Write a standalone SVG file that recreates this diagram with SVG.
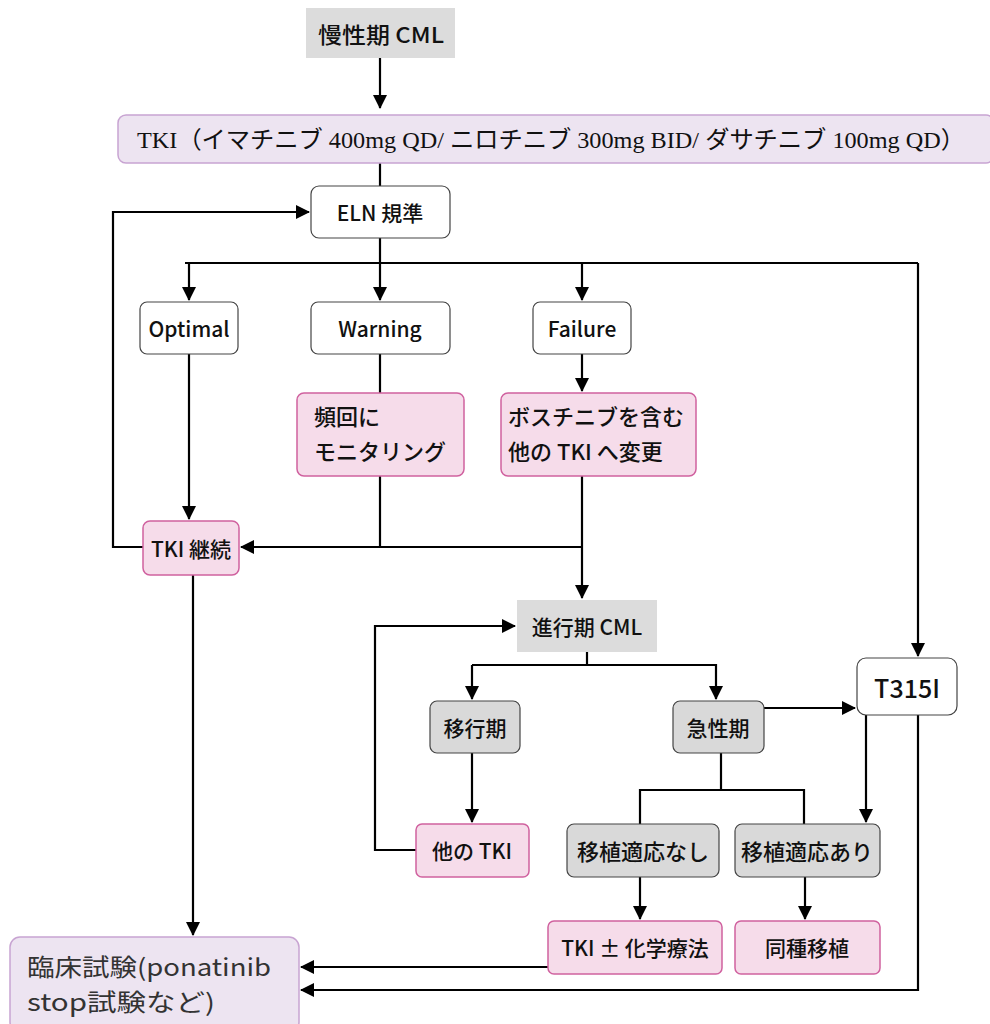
<svg xmlns="http://www.w3.org/2000/svg" width="990" height="1024" viewBox="0 0 990 1024">
<defs>
<marker id="ahL" markerWidth="14" markerHeight="14" refX="13" refY="7" orient="auto" markerUnits="userSpaceOnUse" viewBox="0 0 14 14">
<path d="M0,0 L14,7 L0,14 Z" fill="#000"/>
</marker>
</defs>
<style>
text{font-family:"Noto Sans CJK JP","Liberation Sans",sans-serif;font-size:21px;font-weight:500;fill:#111}
.c{text-anchor:middle;dominant-baseline:central}
.gray{fill:#dcdcdc;stroke:none}
.grayb{fill:#d9d9d9;stroke:#444;stroke-width:1.2}
.white{fill:#fff;stroke:#444;stroke-width:1.2}
.pink{fill:#f6dcea;stroke:#d0619f;stroke-width:1.5}
.purple{fill:#ede4f1;stroke:#c8a4d2;stroke-width:1.5}
.ln{fill:none;stroke:#000;stroke-width:2.2}
.trial{font-size:24px;font-weight:400;fill:#333}
</style>
<rect width="990" height="1024" fill="#fff"/>
<g id="connectors">
<line class="ln" x1="380" y1="58" x2="380" y2="108" marker-end="url(#ahL)"/>
<line class="ln" x1="380" y1="163" x2="380" y2="186"/>
<polyline class="ln" points="143,547 113,547 113,212 309,212" marker-end="url(#ahL)"/>
<line class="ln" x1="380" y1="238" x2="380" y2="300" marker-end="url(#ahL)"/>
<polyline class="ln" points="918,263 185,263"/>
<line class="ln" x1="189" y1="263" x2="189" y2="300" marker-end="url(#ahL)"/>
<line class="ln" x1="582" y1="263" x2="582" y2="300" marker-end="url(#ahL)"/>
<line class="ln" x1="918" y1="263" x2="918" y2="656" marker-end="url(#ahL)"/>
<line class="ln" x1="189" y1="354" x2="189" y2="519" marker-end="url(#ahL)"/>
<line class="ln" x1="380" y1="354" x2="380" y2="393"/>
<line class="ln" x1="380" y1="476" x2="380" y2="547"/>
<line class="ln" x1="582" y1="354" x2="582" y2="391" marker-end="url(#ahL)"/>
<line class="ln" x1="582" y1="547" x2="241" y2="547" marker-end="url(#ahL)"/>
<line class="ln" x1="582" y1="476" x2="582" y2="598" marker-end="url(#ahL)"/>
<line class="ln" x1="193" y1="575" x2="193" y2="935" marker-end="url(#ahL)"/>
<polyline class="ln" points="416,850 375,850 375,626 515,626" marker-end="url(#ahL)"/>
<line class="ln" x1="587" y1="652" x2="587" y2="665"/>
<polyline class="ln" points="472,665 716,665 716,699" marker-end="url(#ahL)"/>
<line class="ln" x1="472" y1="665" x2="472" y2="699" marker-end="url(#ahL)"/>
<line class="ln" x1="764" y1="708" x2="855" y2="708" marker-end="url(#ahL)"/>
<line class="ln" x1="472" y1="753" x2="472" y2="822" marker-end="url(#ahL)"/>
<line class="ln" x1="721" y1="753" x2="721" y2="790"/>
<polyline class="ln" points="640,824 640,790 804,790 804,824"/>
<line class="ln" x1="866" y1="715" x2="866" y2="822" marker-end="url(#ahL)"/>
<polyline class="ln" points="918,715 918,990 301,990" marker-end="url(#ahL)"/>
<line class="ln" x1="640" y1="877" x2="640" y2="919" marker-end="url(#ahL)"/>
<line class="ln" x1="805" y1="877" x2="805" y2="919" marker-end="url(#ahL)"/>
<line class="ln" x1="548" y1="967" x2="301" y2="967" marker-end="url(#ahL)"/>
</g>
<g id="n-chronic">
<rect class="gray" x="306" y="8" width="149" height="50"/>
<text class="c" x="381" y="33" textLength="126" lengthAdjust="spacingAndGlyphs" style="font-size:22px">慢性期 CML</text>
</g>
<g id="n-tki">
<rect class="purple" x="118" y="115" width="876" height="48" rx="8"/>
<text x="137" y="148" textLength="828" lengthAdjust="spacingAndGlyphs" style="font-family:'Liberation Serif','Noto Sans CJK JP',serif;font-size:24px;font-weight:400">TKI（イマチニブ 400mg QD/ ニロチニブ 300mg BID/ ダサチニブ 100mg QD）</text>
</g>
<g id="n-eln">
<rect class="white" x="311" y="186" width="139" height="52" rx="8"/>
<text class="c" x="380" y="212">ELN 規準</text>
</g>
<g id="n-optimal">
<rect class="white" x="140" y="302" width="98" height="52" rx="7"/>
<text class="c" x="189" y="328">Optimal</text>
</g>
<g id="n-warning">
<rect class="white" x="311" y="302" width="139" height="52" rx="7"/>
<text class="c" x="380" y="328">Warning</text>
</g>
<g id="n-failure">
<rect class="white" x="533" y="302" width="98" height="52" rx="7"/>
<text class="c" x="582" y="328">Failure</text>
</g>
<g id="n-monitor">
<rect class="pink" x="297" y="393" width="167" height="83" rx="7"/>
<text x="314" y="425" style="font-size:22px">頻回に</text>
<text x="314" y="460" style="font-size:22px">モニタリング</text>
</g>
<g id="n-bosutinib">
<rect class="pink" x="501" y="393" width="195" height="83" rx="7"/>
<text x="508" y="425" style="font-size:22px">ボスチニブを含む</text>
<text x="508" y="460" style="font-size:22px">他の TKI へ変更</text>
</g>
<g id="n-continue">
<rect class="pink" x="143" y="521" width="96" height="54" rx="7"/>
<text class="c" x="191" y="548">TKI 継続</text>
</g>
<g id="n-advanced">
<rect class="gray" x="517" y="600" width="140" height="52"/>
<text class="c" x="587" y="626">進行期 CML</text>
</g>
<g id="n-accel">
<rect class="grayb" x="430" y="701" width="90" height="52" rx="7"/>
<text class="c" x="475" y="727">移行期</text>
</g>
<g id="n-blast">
<rect class="grayb" x="673" y="701" width="91" height="52" rx="7"/>
<text class="c" x="718" y="727">急性期</text>
</g>
<g id="n-t315i">
<rect class="white" x="857" y="658" width="100" height="57" rx="9"/>
<text class="c" x="907" y="687" style="font-size:25px">T315I</text>
</g>
<g id="n-othertki">
<rect class="pink" x="416" y="824" width="113" height="53" rx="6"/>
<text class="c" x="472" y="850">他の TKI</text>
</g>
<g id="n-notx">
<rect class="grayb" x="567" y="824" width="152" height="53" rx="7"/>
<text class="c" x="643" y="850" style="font-size:22px">移植適応なし</text>
</g>
<g id="n-tx">
<rect class="grayb" x="735" y="824" width="145" height="53" rx="7"/>
<text class="c" x="807" y="850" style="font-size:22px">移植適応あり</text>
</g>
<g id="n-chemo">
<rect class="pink" x="548" y="921" width="174" height="53" rx="6"/>
<text class="c" x="635" y="947">TKI ± 化学療法</text>
</g>
<g id="n-allo">
<rect class="pink" x="735" y="921" width="145" height="53" rx="6"/>
<text class="c" x="807" y="947">同種移植</text>
</g>
<g id="n-trial">
<rect class="purple" x="10" y="937" width="289" height="95" rx="10"/>
<text class="trial" x="27" y="976" textLength="244" lengthAdjust="spacingAndGlyphs">臨床試験(ponatinib</text>
<text class="trial" x="27" y="1011" textLength="188" lengthAdjust="spacingAndGlyphs">stop試験など)</text>
</g>
</svg>
